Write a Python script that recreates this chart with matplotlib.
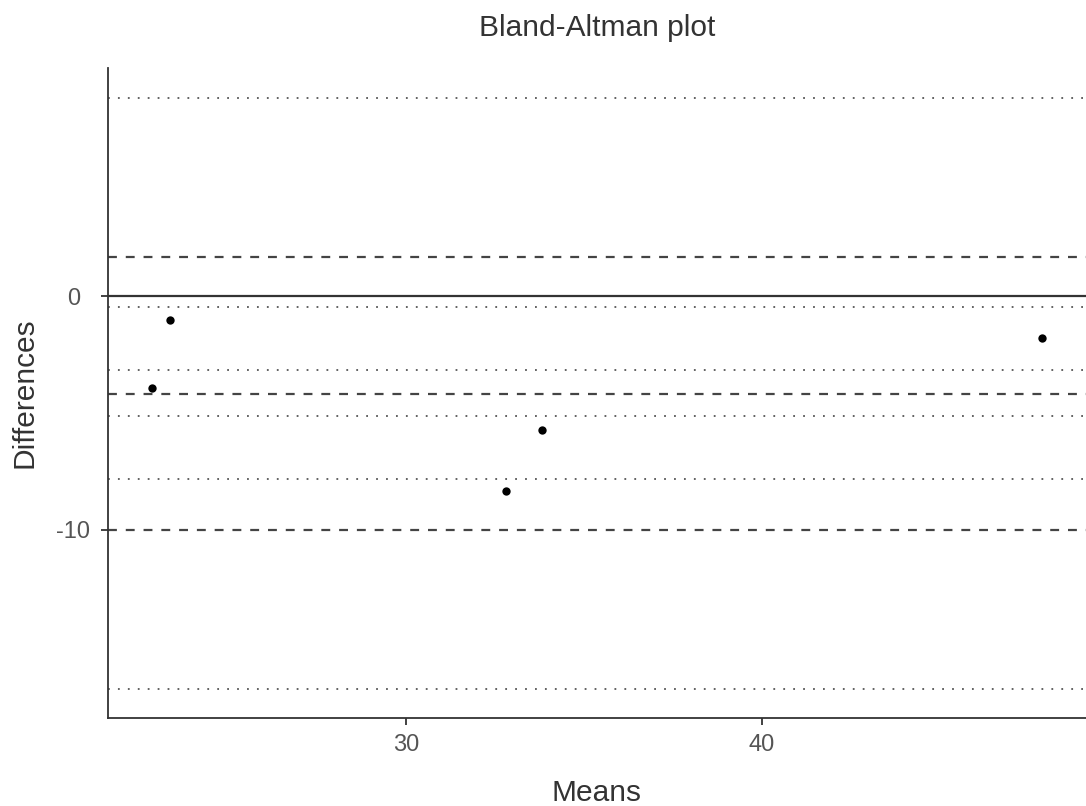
import matplotlib
matplotlib.use('Agg')
import matplotlib.pyplot as plt

# Means and differences of the five paired measurements
means = [22.88, 23.38, 32.82, 33.82, 47.86]
diffs = [-3.94, -1.00, -8.33, -5.74, -1.78]

# Bias and limits of agreement (dashed) and their confidence bounds (dotted)
agreement = [1.70, -4.16, -10.00]
conf_bounds = [8.52, -0.44, -3.15, -5.13, -7.84, -16.81]

plt.rcParams['font.family'] = ['Liberation Sans', 'DejaVu Sans']
plt.rcParams['axes.unicode_minus'] = False

fig = plt.figure(figsize=(10.86, 8.06), dpi=100)
ax = fig.add_axes([0.0994, 0.1088, 0.9006, 0.8068])

grey = '#333333'
ax.axhline(0, color=grey, lw=1.6, zorder=1)
for v in agreement:
    ax.axhline(v, color='#444444', lw=1.6, ls=(0, (4, 4)), zorder=1)
for v in conf_bounds:
    ax.axhline(v, color='#555555', lw=1.3, ls=(0, (1, 4.5)), zorder=1)

ax.scatter(means, diffs, s=36, color='black', zorder=3, linewidths=0)

# ggplot-style 5% expansion
ylo, yhi = min(conf_bounds), max(conf_bounds)
xlo, xhi = min(means), max(means)
ax.set_ylim(ylo - 0.05 * (yhi - ylo), yhi + 0.05 * (yhi - ylo))
ax.set_xlim(xlo - 0.05 * (xhi - xlo), xhi + 0.05 * (xhi - xlo))
ax.set_xticks([30, 40])
ax.set_yticks([0, -10])

for side in ['top', 'right']:
    ax.spines[side].set_visible(False)
for side in ['left', 'bottom']:
    ax.spines[side].set_color(grey)
    ax.spines[side].set_linewidth(1.3)
ax.tick_params(colors=grey, labelcolor='#555555', length=5, width=1.3,
               labelsize=17)
ax.tick_params(axis='x', pad=6)
ax.tick_params(axis='y', pad=20)
for lab in ax.get_yticklabels():
    lab.set_horizontalalignment('center')

ax.set_title('Bland-Altman plot', fontsize=21.5, color='#333333', pad=23)
ax.set_xlabel('Means', fontsize=21.5, color='#333333', labelpad=17)
ax.set_ylabel('Differences', fontsize=21.5, color='#333333', labelpad=13)

fig.savefig('out.png', dpi=100)
